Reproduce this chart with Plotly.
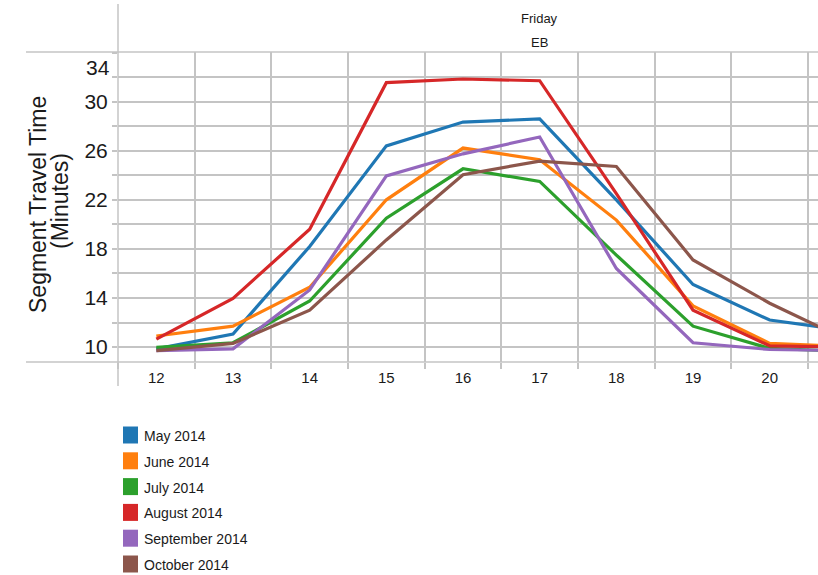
import plotly.graph_objects as go

# Hour of day (EB, Friday); the 21 column runs past the right edge of the plot
hours = ["12", "13", "14", "15", "16", "17", "18", "19", "20", "21"]

may_2014 = [9.85, 11.06, 18.2, 26.4, 28.34, 28.59, 22.0, 15.1, 12.2, 11.34]
june_2014 = [10.9, 11.7, 14.87, 22.0, 26.22, 25.27, 20.35, 13.35, 10.3, 10.04]
july_2014 = [9.97, 10.35, 13.75, 20.5, 24.53, 23.5, 17.5, 11.7, 9.89, 9.65]
august_2014 = [10.65, 13.97, 19.6, 31.55, 31.85, 31.71, 22.5, 13.0, 10.1, 10.0]
september_2014 = [9.7, 9.85, 14.65, 23.95, 25.75, 27.12, 16.4, 10.35, 9.8, 9.7]
october_2014 = [9.7, 10.3, 13.0, 18.73, 24.04, 25.16, 24.72, 17.1, 13.57, 10.6]

series_names = ["May 2014", "June 2014", "July 2014", "August 2014",
                "September 2014", "October 2014"]
series_values = [may_2014, june_2014, july_2014, august_2014,
                 september_2014, october_2014]
series_colors = ["#1f77b4", "#ff7f0e", "#2ca02c", "#d62728", "#9467bd", "#8c564b"]

y_tick_vals = [10, 12, 14, 16, 18, 20, 22, 24, 26, 28, 30, 32, 34]
y_tick_text = ["10", "", "14", "", "18", "", "22", "", "26", "", "30", "", ""]

FONT = "Liberation Sans, Arial, sans-serif"
INK = "#1a1a1a"
GRID = "#c4c4c4"

W, H = 818, 575
L, R, T, B = 118, 0, 52, 213
PW, PH = W - L - R, H - T - B


def px(xp):
    return (xp - L) / PW


def py(yp):
    return (H - B - yp) / PH


fig = go.Figure()
for name, vals, col in zip(series_names, series_values, series_colors):
    fig.add_trace(go.Scatter(
        x=hours, y=vals, name=name, mode="lines",
        line=dict(color=col, width=3.2), showlegend=False,
    ))

shapes = [
    # frame lines of the header / axis area
    dict(type="line", xref="paper", yref="paper", x0=px(26), x1=1, y0=1, y1=1,
         line=dict(color=GRID, width=1.5)),
    dict(type="line", xref="paper", yref="paper", x0=px(26), x1=1, y0=0, y1=0,
         line=dict(color=GRID, width=1.5)),
    dict(type="line", xref="paper", yref="paper", x0=0, x1=0, y0=py(4), y1=py(386),
         line=dict(color=GRID, width=1.5)),
]

annotations = [
    dict(text="Friday", xref="paper", yref="paper", x=px(539), y=py(18),
         showarrow=False, xanchor="center", yanchor="middle",
         font=dict(family=FONT, size=13, color=INK)),
    dict(text="EB", xref="paper", yref="paper", x=px(539), y=py(42),
         showarrow=False, xanchor="center", yanchor="middle",
         font=dict(family=FONT, size=13, color=INK)),
    dict(text="34", xref="paper", yref="y", x=0, y=34, xshift=-6, yshift=-15,
         showarrow=False, xanchor="right", yanchor="middle",
         font=dict(family=FONT, size=21, color=INK)),
    dict(text="Segment Travel Time", xref="paper", yref="paper", x=px(38), y=py(205),
         textangle=-90, showarrow=False, xanchor="center", yanchor="middle",
         font=dict(family=FONT, size=23, color=INK)),
    dict(text="(Minutes)", xref="paper", yref="paper", x=px(60), y=py(201),
         textangle=-90, showarrow=False, xanchor="center", yanchor="middle",
         font=dict(family=FONT, size=23, color=INK)),
]

# legend: colour swatch + label per series
for i, (name, col) in enumerate(zip(series_names, series_colors)):
    cy = 435 + 25.8 * i
    shapes.append(dict(type="rect", xref="paper", yref="paper",
                       x0=px(123), x1=px(138), y0=py(cy - 8.5), y1=py(cy + 8.5),
                       fillcolor=col, line=dict(width=0)))
    annotations.append(dict(text=name, xref="paper", yref="paper",
                            x=px(142), y=py(cy + 1), showarrow=False,
                            xanchor="left", yanchor="middle",
                            font=dict(family=FONT, size=14, color=INK)))

fig.update_layout(
    width=W, height=H,
    margin=dict(l=L, r=R, t=T, b=B, pad=0),
    paper_bgcolor="white", plot_bgcolor="white",
    font=dict(family=FONT, color=INK),
    showlegend=False,
    shapes=shapes,
    annotations=annotations,
    xaxis=dict(
        type="category", categoryorder="array", categoryarray=hours,
        range=[-0.5, -0.5 + PW / 76.67],
        tickson="boundaries", ticks="outside", ticklen=6, tickwidth=1.5,
        tickcolor=GRID, showgrid=True, gridcolor=GRID, gridwidth=1.5,
        showline=False, zeroline=False, ticklabelstandoff=5,
        tickfont=dict(family=FONT, size=15, color=INK),
    ),
    yaxis=dict(
        range=[8.78, 34.05], tickmode="array",
        tickvals=y_tick_vals, ticktext=y_tick_text,
        ticks="outside", ticklen=5, tickwidth=1.5, tickcolor=GRID,
        showgrid=True, gridcolor=GRID, gridwidth=1.5,
        showline=False, zeroline=False,
        tickfont=dict(family=FONT, size=21, color=INK),
    ),
)

fig.write_html("out.html")
